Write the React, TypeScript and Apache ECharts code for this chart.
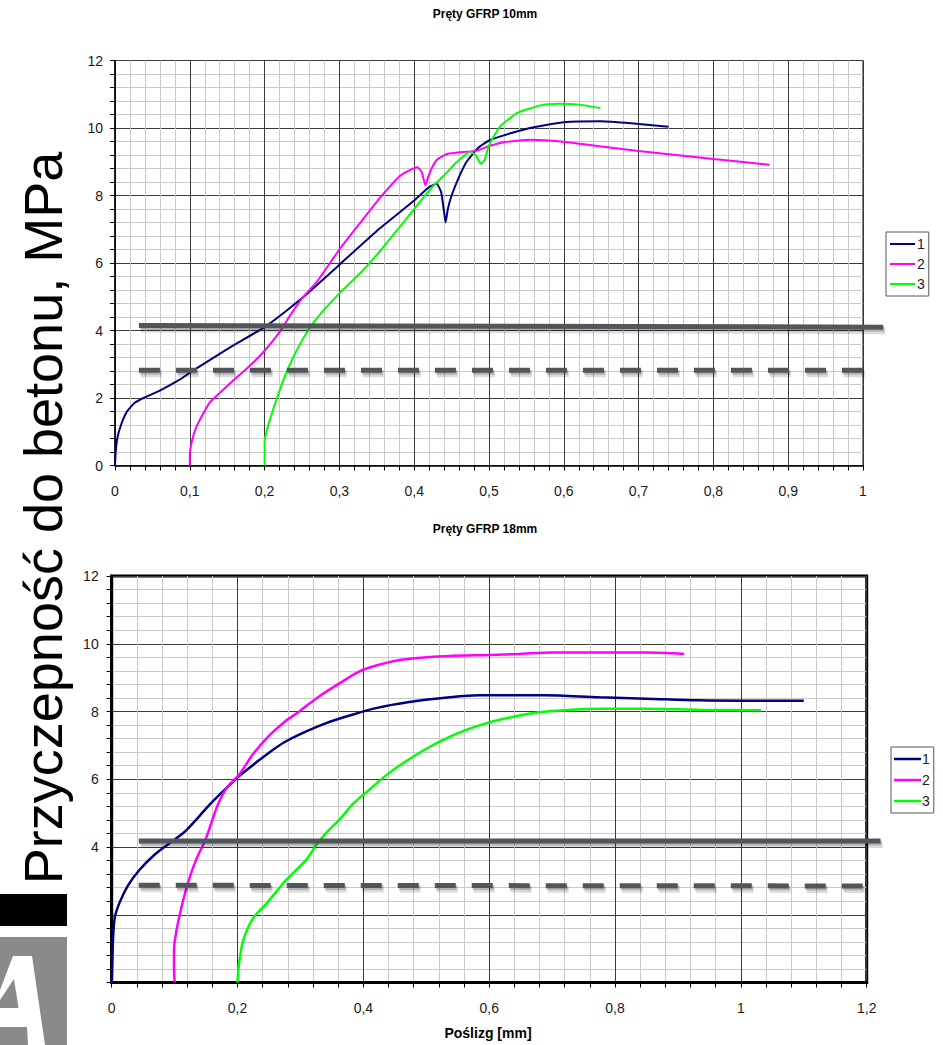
import React, { useEffect, useRef } from "react";
import * as echarts from "echarts";

type Pt = [number, number];

// ---------- texts ----------
const topTitle = "Pręty GFRP 10mm";
const bottomTitle = "Pręty GFRP 18mm";
const xAxisName = "Poślizg [mm]";
const yAxisName = "Przyczepność do betonu, MPa";
const seriesNames = ["1", "2", "3"];
const seriesColors = ["#000080", "#ff00ff", "#00ff00"];

// ---------- top chart (10 mm) ----------
const top1: Pt[] = [
  [0, 0], [0.001, 0.4], [0.003, 0.8], [0.008, 1.2], [0.016, 1.6], [0.026, 1.85], [0.038, 2.0], [0.06, 2.22],
  [0.087, 2.55], [0.1, 2.75], [0.15, 3.45], [0.2, 4.1], [0.23, 4.6], [0.26, 5.15], [0.3, 5.95],
  [0.35, 6.95], [0.4, 7.85], [0.42, 8.25], [0.43, 8.35], [0.436, 8.1], [0.44, 7.5], [0.442, 7.2],
  [0.445, 7.6], [0.45, 8.0], [0.46, 8.55], [0.47, 9.0], [0.485, 9.4], [0.5, 9.63], [0.53, 9.85],
  [0.56, 10.02], [0.6, 10.17], [0.65, 10.2], [0.69, 10.14], [0.74, 10.04],
];
const top2: Pt[] = [
  [0.1, 0], [0.1, 0.3], [0.103, 0.74], [0.108, 1.1], [0.114, 1.38], [0.127, 1.88], [0.14, 2.15],
  [0.158, 2.52], [0.18, 2.95], [0.2, 3.4], [0.22, 3.95], [0.234, 4.44], [0.25, 4.95], [0.27, 5.45],
  [0.3, 6.4], [0.33, 7.25], [0.355, 7.95], [0.382, 8.6], [0.404, 8.84], [0.41, 8.7], [0.415, 8.3],
  [0.418, 8.5], [0.422, 8.74], [0.43, 9.05], [0.444, 9.23], [0.484, 9.33], [0.502, 9.48],
  [0.52, 9.58], [0.556, 9.65], [0.596, 9.6], [0.65, 9.45], [0.7, 9.32], [0.75, 9.2], [0.8, 9.08],
  [0.875, 8.91],
];
const top3: Pt[] = [
  [0.2, 0], [0.2, 0.3], [0.2, 0.74], [0.205, 1.2], [0.212, 1.7], [0.225, 2.52], [0.234, 3.0],
  [0.245, 3.5], [0.258, 4.0], [0.275, 4.5], [0.3, 5.1], [0.33, 5.75], [0.355, 6.37], [0.38, 7.05],
  [0.4, 7.6], [0.422, 8.2], [0.44, 8.6], [0.457, 8.99], [0.475, 9.3], [0.482, 9.2], [0.489, 8.94],
  [0.494, 9.05], [0.5, 9.5], [0.515, 10.05], [0.538, 10.45], [0.569, 10.67], [0.591, 10.72],
  [0.618, 10.7], [0.649, 10.59],
];
// reference levels drawn over the top chart: [x start, x end], [y start, y end]
const topSolidX: number[] = [0.032, 1.027];
const topSolidY: number[] = [4.15, 4.1];
const topDashedX: number[] = [0.032, 1.01];
const topDashedY: number[] = [2.82, 2.82];

// ---------- bottom chart (18 mm) ----------
const bot1: Pt[] = [
  [0, 0], [0.001, 0.6], [0.002, 1.24], [0.005, 1.93], [0.013, 2.38], [0.026, 2.87], [0.044, 3.32],
  [0.068, 3.77], [0.092, 4.11], [0.116, 4.45], [0.135, 4.82], [0.156, 5.26], [0.18, 5.7], [0.203, 6.1],
  [0.23, 6.5], [0.251, 6.8], [0.275, 7.1], [0.298, 7.32], [0.34, 7.65], [0.378, 7.88], [0.42, 8.1],
  [0.473, 8.28], [0.537, 8.42], [0.584, 8.48], [0.687, 8.48], [0.775, 8.42], [0.85, 8.38],
  [0.933, 8.33], [1.0, 8.32], [1.1, 8.32],
];
const bot2: Pt[] = [
  [0.1, 0], [0.099, 0.5], [0.099, 0.94], [0.103, 1.54], [0.111, 2.23], [0.121, 2.93], [0.134, 3.62],
  [0.149, 4.21], [0.16, 4.8], [0.171, 5.35], [0.185, 5.8], [0.203, 6.15], [0.225, 6.75], [0.251, 7.3],
  [0.275, 7.7], [0.298, 8.0], [0.33, 8.45], [0.362, 8.83], [0.39, 9.15], [0.41, 9.3], [0.457, 9.52],
  [0.5, 9.6], [0.537, 9.64], [0.6, 9.67], [0.648, 9.7], [0.7, 9.74], [0.775, 9.74], [0.85, 9.74],
  [0.91, 9.7],
];
const bot3: Pt[] = [
  [0.2, 0], [0.201, 0.3], [0.203, 0.64], [0.209, 1.24], [0.224, 1.88], [0.246, 2.33], [0.277, 3.02],
  [0.309, 3.62], [0.327, 4.11], [0.345, 4.5], [0.362, 4.81], [0.385, 5.3], [0.41, 5.7], [0.435, 6.1],
  [0.457, 6.4], [0.5, 6.9], [0.537, 7.25], [0.57, 7.5], [0.6, 7.68], [0.64, 7.85], [0.679, 7.98],
  [0.72, 8.04], [0.775, 8.08], [0.854, 8.08], [0.933, 8.05], [1.032, 8.04],
];
const botSolidX: number[] = [0.043, 1.222];
const botSolidY: number[] = [4.18, 4.18];
const botDashedX: number[] = [0.043, 1.203];
const botDashedY: number[] = [2.87, 2.85];

// axis settings
const topXMax = 1;
const topXStep = 0.1;
const botXMax = 1.2;
const botXStep = 0.2;
const yMax = 12;
const yStep = 2;
const botHiddenYLabels = [0, 2];

const FONT = '"Liberation Sans", Arial, sans-serif';
const comma = (v: number) => String(Math.round(v * 1000) / 1000).replace(".", ",");

function axisCommon(labelMargin: number) {
  return {
    type: "value" as const,
    axisLine: { show: true, onZero: false, lineStyle: { color: "#000", width: 1.5 } },
    axisTick: { show: true, inside: false, length: 5, lineStyle: { color: "#000", width: 1 } },
    minorTick: { show: true, splitNumber: 5, length: 5, lineStyle: { color: "#000", width: 1 } },
    splitLine: { show: true, lineStyle: { color: "#3a3a3a", width: 1 } },
    minorSplitLine: { show: true, lineStyle: { color: "#c9c9c9", width: 1 } },
    axisLabel: { color: "#1a1a1a", fontSize: 14, fontFamily: FONT, margin: labelMargin },
  };
}

function curve(name: string, color: string, idx: number, data: Pt[], width: number, smooth: number) {
  return {
    name,
    type: "line",
    xAxisIndex: idx,
    yAxisIndex: idx,
    data,
    symbol: "none",
    smooth,
    z: 3,
    lineStyle: { color, width },
    itemStyle: { color },
  };
}

export default function App() {
  const ref = useRef<HTMLDivElement>(null);
  useEffect(() => {
    if (!ref.current) return;
    const chart = echarts.init(ref.current, undefined, { renderer: "svg" });
    const legendData = seriesNames.map((n) => ({ name: n, icon: "rect" }));
    chart.setOption({
      animation: false,
      backgroundColor: "#fff",
      grid: [
        { left: 115, top: 60.5, width: 748, height: 405, show: true, borderColor: "#000", borderWidth: 1 },
        { left: 111.7, top: 576, width: 755, height: 406.5, show: true, borderColor: "#000", borderWidth: 3 },
      ],
      xAxis: [
        {
          ...axisCommon(18),
          gridIndex: 0,
          min: 0,
          max: topXMax,
          interval: topXStep,
          axisLabel: { ...axisCommon(18).axisLabel, formatter: (v: number) => comma(v) },
        },
        {
          ...axisCommon(18),
          gridIndex: 1,
          min: 0,
          max: botXMax,
          interval: botXStep,
          axisLine: { show: true, onZero: false, lineStyle: { color: "#000", width: 3 } },
          axisLabel: { ...axisCommon(18).axisLabel, formatter: (v: number) => comma(v) },
        },
      ],
      yAxis: [
        { ...axisCommon(12), gridIndex: 0, min: 0, max: yMax, interval: yStep },
        {
          ...axisCommon(13),
          gridIndex: 1,
          min: 0,
          max: yMax,
          interval: yStep,
          axisLine: { show: true, onZero: false, lineStyle: { color: "#000", width: 3 } },
          axisLabel: {
            ...axisCommon(13).axisLabel,
            formatter: (v: number) => (botHiddenYLabels.includes(v) ? "" : comma(v)),
          },
        },
      ],
      legend: [
        {
          data: legendData,
          orient: "vertical",
          left: 886,
          top: 232,
          itemWidth: 25,
          itemHeight: 2,
          itemGap: 6,
          padding: [5, 4, 5, 4],
          borderColor: "#555",
          borderWidth: 1,
          selectedMode: false,
          textStyle: { fontSize: 14, fontFamily: FONT, color: "#222", padding: [0, 0, 0, -3] },
        },
        {
          data: legendData,
          orient: "vertical",
          left: 891,
          top: 747,
          itemWidth: 27,
          itemHeight: 2.5,
          itemGap: 7,
          padding: [5, 4, 5, 3],
          borderColor: "#555",
          borderWidth: 1,
          selectedMode: false,
          textStyle: { fontSize: 14, fontFamily: FONT, color: "#222", padding: [0, 0, 0, -4] },
        },
      ],
      series: [
        curve(seriesNames[0], seriesColors[0], 0, top1, 2, 0.15),
        curve(seriesNames[1], seriesColors[1], 0, top2, 2, 0.15),
        curve(seriesNames[2], seriesColors[2], 0, top3, 2, 0.15),
        curve(seriesNames[0], seriesColors[0], 1, bot1, 2.5, 0.3),
        curve(seriesNames[1], seriesColors[1], 1, bot2, 2.5, 0.3),
        curve(seriesNames[2], seriesColors[2], 1, bot3, 2.5, 0.3),
      ],
    });

    // reference lines converted through the axes
    const refLines: { idx: number; xs: number[]; ys: number[]; dashed: boolean }[] = [
      { idx: 0, xs: topSolidX, ys: topSolidY, dashed: false },
      { idx: 0, xs: topDashedX, ys: topDashedY, dashed: true },
      { idx: 1, xs: botSolidX, ys: botSolidY, dashed: false },
      { idx: 1, xs: botDashedX, ys: botDashedY, dashed: true },
    ];
    const refGraphics: any[] = [];
    refLines.forEach((r) => {
      const p1 = chart.convertToPixel({ xAxisIndex: r.idx, yAxisIndex: r.idx }, [r.xs[0], r.ys[0]]) as number[];
      const p2 = chart.convertToPixel({ xAxisIndex: r.idx, yAxisIndex: r.idx }, [r.xs[1], r.ys[1]]) as number[];
      const dash = r.dashed ? [21, 16] : null;
      // soft shadow
      refGraphics.push({
        type: "line",
        z: 8,
        silent: true,
        shape: { x1: p1[0] + 2, y1: p1[1] + 3.5, x2: p2[0] + 2, y2: p2[1] + 3.5 },
        style: { stroke: "rgba(0,0,0,0.14)", lineWidth: 7, lineDash: dash },
      });
      refGraphics.push({
        type: "line",
        z: 8,
        silent: true,
        shape: { x1: p1[0] + 1, y1: p1[1] + 2, x2: p2[0] + 1, y2: p2[1] + 2 },
        style: { stroke: "rgba(0,0,0,0.18)", lineWidth: 5, lineDash: dash },
      });
      refGraphics.push({
        type: "line",
        z: 9,
        silent: true,
        shape: { x1: p1[0], y1: p1[1], x2: p2[0], y2: p2[1] },
        style: { stroke: "#50565a", lineWidth: 5, lineDash: dash },
      });
    });

    chart.setOption({
      graphic: [
        ...refGraphics,
        {
          type: "text",
          x: 485,
          y: 14,
          style: { text: topTitle, font: `bold 12px ${FONT}`, fill: "#000", align: "center", verticalAlign: "middle" },
        },
        {
          type: "text",
          x: 485,
          y: 529,
          style: { text: bottomTitle, font: `bold 12px ${FONT}`, fill: "#000", align: "center", verticalAlign: "middle" },
        },
        {
          type: "text",
          x: 488,
          y: 1033,
          style: { text: xAxisName, font: `bold 14px ${FONT}`, fill: "#000", align: "center", verticalAlign: "middle" },
        },
        {
          type: "text",
          x: 43,
          y: 518,
          rotation: Math.PI / 2,
          z: 20,
          style: { text: yAxisName, font: `54px ${FONT}`, fill: "#000", align: "center", verticalAlign: "middle" },
        },
        // logo
        { type: "rect", z: 20, shape: { x: 0, y: 894, width: 67, height: 32 }, style: { fill: "#000" } },
        { type: "rect", z: 20, shape: { x: 0, y: 937, width: 67, height: 108 }, style: { fill: "#8a8a8a" } },
        {
          type: "polygon",
          z: 21,
          shape: { points: [[13, 956], [32, 956], [45, 1045], [28, 1045], [27, 1027], [0, 1027], [0, 990]] },
          style: { fill: "#fff" },
        },
        {
          type: "polygon",
          z: 22,
          shape: { points: [[14, 979], [18.5, 1008], [0, 1008], [0, 1000]] },
          style: { fill: "#8a8a8a" },
        },
      ],
    });
    return () => chart.dispose();
  }, []);
  return <div ref={ref} style={{ position: "absolute", left: 0, top: 0, width: 943, height: 1045 }} />;
}
